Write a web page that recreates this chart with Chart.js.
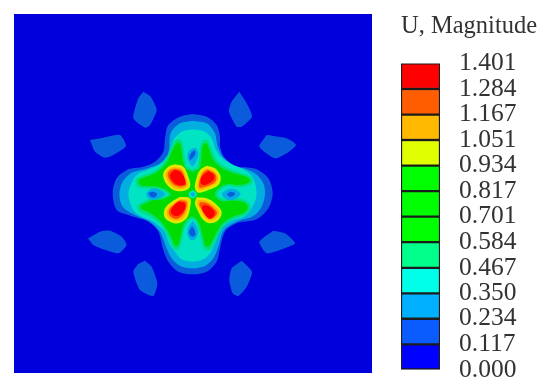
<!DOCTYPE html>
<html>
<head>
<meta charset="utf-8">
<title>U, Magnitude</title>
<script src="https://cdn.jsdelivr.net/npm/chart.js@4"></script>
<style>
    html, body { margin: 0; padding: 0; background: #fff; overflow: hidden; }
    canvas { position: absolute; top: 0; filter: blur(0.5px); }
    #contour { left: 0; }
    #colorbar { left: 390px; }
</style>
</head>
<body>
<canvas id="contour" width="390" height="391"></canvas>
<canvas id="colorbar" width="160" height="391"></canvas>
<script>
// Contour levels
const levelValues = [0.000, 0.117, 0.234, 0.350, 0.467, 0.584, 0.701, 0.817, 0.934, 1.051, 1.167, 1.284, 1.401];
const legendColors = ['#0000ff', '#0a5cff', '#00b0ff', '#00ffe8', '#00ff8b', '#00ff00', '#00ff00', '#00ff00', '#e0ff00', '#ffb900', '#ff5d00', '#ff0000'];

// Field bands as they look in the plot, a bit darker than the legend
const bandBackground = '#0000dc';
const band1 = '#0a5cdc';
const band2 = '#00aee0';
const band3 = '#00e4c4';
const band4 = '#00e080';
const band5 = '#00dc00';
const band8 = '#e0e800';
const band9 = '#ffb000';
const band10 = '#ff5000';
const band11 = '#ff0000';

// Outlines, x/y in field units
const frame = [[-258, -228], [816, -228], [816, 849], [-258, 849]];

const outerPetals = [
    [[130, 5], [152, 20], [170, 60], [150, 105], [135, 113], [100, 85], [115, 25]],
    [[418, 5], [440, 40], [456, 80], [425, 110], [410, 110], [387, 65], [395, 35]],
    [[-30, 150], [10, 143], [60, 135], [78, 168], [40, 195], [15, 203], [-15, 185]],
    [[500, 135], [560, 145], [588, 165], [560, 190], [525, 205], [478, 170]],
    [[-36, 445], [0, 425], [30, 422], [65, 440], [80, 465], [55, 490], [10, 478], [-20, 465]],
    [[520, 422], [555, 430], [585, 460], [540, 480], [500, 490], [478, 455]],
    [[135, 512], [155, 530], [172, 580], [160, 618], [120, 600], [100, 545], [115, 522]],
    [[425, 512], [456, 545], [440, 590], [415, 618], [398, 610], [388, 570], [395, 535]]
];

const cross1 = [[278, 72], [320, 80], [350, 105], [360, 140], [360, 170], [375, 205], [410, 230], [435, 232], [470, 238], [505, 265], [518, 310], [505, 355], [470, 388], [410, 400], [375, 425], [360, 475], [350, 515], [320, 545], [278, 553], [235, 545], [205, 515], [190, 480], [175, 425], [145, 395], [105, 382], [85, 375], [50, 360], [38, 310], [50, 265], [85, 238], [130, 230], [165, 215], [190, 185], [195, 145], [205, 105], [240, 80]];
const cross2 = [[278, 92], [320, 100], [345, 130], [352, 165], [368, 200], [405, 228], [435, 236], [465, 250], [490, 280], [495, 313], [485, 350], [460, 378], [410, 395], [372, 420], [355, 470], [340, 505], [315, 528], [278, 535], [240, 528], [215, 505], [198, 470], [180, 425], [150, 395], [105, 375], [68, 350], [58, 313], [68, 275], [95, 248], [140, 236], [180, 220], [205, 188], [212, 130], [240, 100]];
const cross3 = [[278, 118], [315, 125], [335, 145], [348, 180], [370, 208], [400, 225], [430, 238], [458, 262], [470, 313], [455, 355], [430, 382], [395, 392], [365, 415], [345, 460], [330, 490], [310, 508], [278, 515], [245, 508], [225, 485], [210, 465], [192, 422], [155, 392], [125, 380], [100, 360], [85, 313], [100, 268], [118, 250], [148, 238], [187, 218], [212, 182], [220, 150], [245, 125]];
const cross4 = [[278, 238], [292, 230], [298, 200], [300, 170], [308, 152], [322, 150], [335, 175], [347, 205], [372, 228], [405, 243], [435, 253], [455, 262], [458, 278], [442, 287], [412, 292], [385, 288], [365, 296], [353, 313], [365, 325], [415, 325], [440, 332], [452, 350], [445, 368], [430, 378], [402, 387], [372, 407], [357, 432], [340, 465], [330, 480], [312, 478], [303, 445], [294, 410], [285, 393], [278, 388], [265, 395], [255, 412], [250, 432], [243, 462], [236, 478], [222, 478], [212, 460], [195, 422], [175, 397], [140, 375], [118, 365], [112, 348], [130, 335], [155, 323], [190, 320], [205, 313], [190, 303], [160, 297], [135, 295], [112, 290], [108, 268], [130, 256], [165, 242], [195, 213], [208, 185], [218, 160], [228, 148], [243, 150], [250, 170], [255, 200], [262, 228]];
const cross5 = [[278, 246], [298, 235], [304, 205], [306, 178], [312, 160], [320, 160], [329, 182], [340, 210], [366, 234], [402, 250], [432, 258], [447, 265], [448, 276], [436, 282], [410, 285], [385, 282], [360, 292], [345, 313], [362, 332], [412, 332], [435, 338], [444, 352], [438, 364], [424, 372], [398, 380], [368, 400], [350, 428], [334, 458], [326, 470], [316, 468], [309, 442], [300, 408], [290, 388], [278, 380], [262, 388], [250, 408], [244, 430], [238, 456], [232, 468], [225, 468], [218, 452], [200, 418], [178, 390], [145, 366], [125, 358], [122, 347], [138, 340], [158, 331], [192, 327], [212, 313], [192, 296], [160, 289], [136, 288], [119, 284], [116, 270], [134, 262], [168, 248], [200, 218], [214, 188], [224, 168], [232, 158], [240, 160], [244, 175], [248, 205], [256, 235]];

const holes2 = [
    [[288, 172], [295, 190], [290, 212], [278, 228], [266, 215], [262, 195], [270, 180]],
    [[278, 392], [290, 410], [294, 430], [285, 448], [272, 450], [262, 432], [265, 412]],
    [[365, 310], [385, 298], [405, 298], [422, 312], [405, 328], [385, 330], [370, 322]],
    [[138, 310], [155, 296], [175, 298], [195, 312], [178, 325], [155, 330], [142, 322]]
];
const holes1 = [
    [[284, 180], [287, 190], [278, 205], [270, 210], [268, 200], [274, 188]],
    [[276, 408], [284, 420], [286, 435], [278, 440], [270, 435], [267, 425]],
    [[380, 312], [392, 305], [405, 310], [400, 318], [388, 320]],
    [[145, 308], [160, 305], [172, 312], [165, 322], [152, 320]]
];
const centre3 = [[278, 301], [288, 306], [290, 316], [280, 325], [269, 321], [266, 310]];
const centre2 = [[278, 307], [284, 310], [284, 316], [278, 320], [273, 316], [272, 310]];

const peaks8 = [
    [[225, 223], [250, 230], [265, 260], [270, 290], [250, 303], [220, 300], [195, 275], [190, 250], [205, 230]],
    [[320, 227], [345, 235], [362, 260], [355, 285], [325, 300], [295, 308], [285, 295], [288, 270], [300, 240]],
    [[240, 320], [270, 325], [270, 355], [260, 385], [235, 400], [210, 395], [193, 380], [195, 355], [215, 335]],
    [[290, 322], [320, 325], [345, 340], [365, 365], [355, 390], [330, 400], [310, 390], [295, 365], [285, 340]]
];
const peaks9 = [
    [[225, 231], [246, 237], [258, 262], [263, 286], [248, 296], [222, 293], [202, 271], [197, 250], [209, 236]],
    [[320, 235], [340, 242], [354, 261], [348, 280], [323, 293], [298, 300], [293, 292], [296, 271], [306, 245]],
    [[241, 328], [263, 332], [263, 354], [253, 381], [232, 392], [212, 388], [201, 376], [203, 358], [220, 341]],
    [[293, 329], [318, 332], [341, 346], [358, 366], [349, 384], [330, 392], [315, 383], [301, 361], [292, 341]]
];
const peaks10 = [
    [[224, 236], [243, 241], [254, 263], [258, 284], [243, 290], [222, 285], [207, 267], [203, 251], [212, 240]],
    [[322, 239], [340, 247], [349, 260], [345, 276], [320, 289], [300, 293], [297, 285], [300, 268], [309, 249]],
    [[239, 331], [259, 336], [258, 356], [247, 376], [230, 387], [215, 382], [207, 372], [208, 359], [221, 344]],
    [[300, 336], [320, 339], [338, 352], [351, 368], [343, 381], [329, 387], [319, 378], [306, 358], [298, 345]]
];
const peaks11 = [
    [[223, 240], [240, 245], [253, 263], [255, 283], [235, 285], [217, 273], [210, 255]],
    [[325, 243], [342, 255], [340, 270], [315, 285], [302, 280], [305, 260]],
    [[235, 335], [255, 340], [253, 360], [233, 378], [215, 372], [213, 360], [223, 345]],
    [[310, 345], [330, 350], [345, 370], [335, 385], [325, 385], [312, 370], [305, 355]]
];

// Closed filled outline, painted in list order
function outline(points, color, tension) {
    const closed = points.concat([points[0]]);
    return {
        data: closed.map(p => ({ x: p[0], y: p[1] })),
        showLine: true,
        fill: 'shape',
        backgroundColor: color,
        borderWidth: 0,
        pointRadius: 0,
        tension: tension
    };
}

const layers = [outline(frame, bandBackground, 0)];
outerPetals.forEach(p => layers.push(outline(p, band1, 0.2)));
layers.push(outline(cross1, band1, 0.3));
layers.push(outline(cross2, band2, 0.3));
layers.push(outline(cross3, band3, 0.3));
layers.push(outline(cross4, band4, 0.3));
layers.push(outline(cross5, band5, 0.3));
holes2.forEach(p => layers.push(outline(p, band2, 0.3)));
holes1.forEach(p => layers.push(outline(p, band1, 0.3)));
layers.push(outline(centre3, band3, 0.3));
layers.push(outline(centre2, band2, 0.3));
peaks8.forEach(p => layers.push(outline(p, band8, 0.35)));
peaks9.forEach(p => layers.push(outline(p, band9, 0.35)));
peaks10.forEach(p => layers.push(outline(p, band10, 0.35)));
peaks11.forEach(p => layers.push(outline(p, band11, 0.35)));

// First dataset is drawn last by Chart.js, so flip the painting order
layers.reverse();

new Chart(document.getElementById('contour').getContext('2d'), {
    type: 'scatter',
    data: { datasets: layers },
    options: {
        responsive: false,
        animation: false,
        layout: { padding: { left: 14, top: 14, right: 18, bottom: 18 } },
        plugins: { legend: { display: false }, tooltip: { enabled: false } },
        scales: {
            x: { display: false, min: -258, max: 816 },
            y: { display: false, min: -228, max: 849, reverse: true }
        }
    }
});

// Color bar: one floating bar per band
const barDatasets = legendColors.map((color, i) => ({
    data: [[levelValues[i], levelValues[i + 1]]],
    backgroundColor: color,
    borderColor: '#1c1c1c',
    borderWidth: 1.5,
    borderSkipped: false,
    grouped: false,
    barPercentage: 1,
    categoryPercentage: 1
}));

new Chart(document.getElementById('colorbar').getContext('2d'), {
    type: 'bar',
    data: { labels: ['U'], datasets: barDatasets },
    options: {
        responsive: false,
        animation: false,
        layout: { padding: { left: 11, bottom: 21 } },
        plugins: {
            legend: { display: false },
            tooltip: { enabled: false },
            title: {
                display: true,
                text: 'U, Magnitude',
                align: 'start',
                color: '#333',
                font: { family: 'Liberation Serif', size: 24.5, weight: 'normal' },
                padding: { top: 12, bottom: 22 }
            }
        },
        scales: {
            x: { display: false },
            y: {
                position: 'right',
                min: 0,
                max: 1.401,
                border: { display: false },
                // transparent tick marks push the labels away from the bar
                grid: { drawOnChartArea: false, tickLength: 19, tickColor: 'transparent' },
                afterBuildTicks: scale => { scale.ticks = levelValues.map(v => ({ value: v })); },
                afterFit: scale => { scale.width = 110; },
                ticks: {
                    autoSkip: false,
                    padding: 0,
                    color: '#333',
                    font: { family: 'Liberation Serif', size: 25.5 },
                    callback: value => value.toFixed(3)
                }
            }
        }
    }
});
</script>
</body>
</html>
